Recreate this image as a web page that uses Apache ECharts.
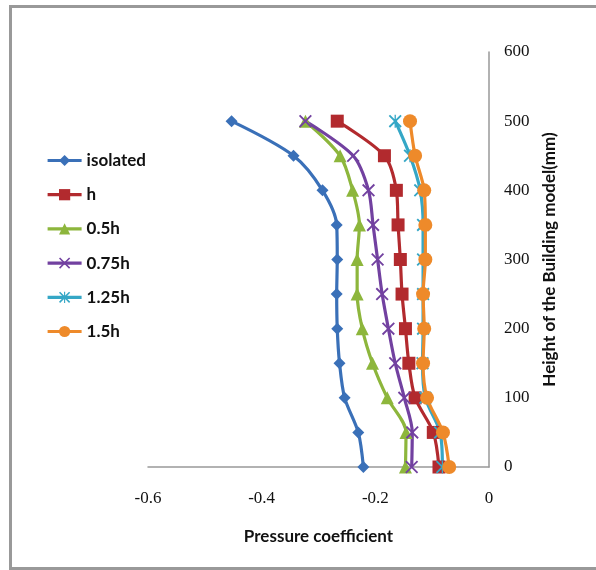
<!DOCTYPE html>
<html>
<head>
<meta charset="utf-8">
<script src="https://cdn.jsdelivr.net/npm/echarts@6/dist/echarts.min.js"></script>
<style>
html,body{margin:0;padding:0;background:#fff;}
#chart{width:596px;height:570px;}
</style>
</head>
<body>
<div id="chart"></div>
<script>
const heights = [0, 50, 100, 150, 200, 250, 300, 350, 400, 450, 500];
const seriesNames = ['isolated', 'h', '0.5h', '0.75h', '1.25h', '1.5h'];
const isolated = [-0.221, -0.230, -0.254, -0.263, -0.267, -0.268, -0.267, -0.268, -0.293, -0.344, -0.453];
const hVals    = [-0.088, -0.098, -0.130, -0.141, -0.147, -0.153, -0.156, -0.160, -0.163, -0.184, -0.267];
const h05      = [-0.147, -0.146, -0.179, -0.205, -0.223, -0.232, -0.232, -0.228, -0.240, -0.262, -0.323];
const h075     = [-0.136, -0.135, -0.149, -0.165, -0.177, -0.188, -0.196, -0.204, -0.212, -0.239, -0.323];
const h125     = [-0.082, -0.086, -0.112, -0.117, -0.116, -0.116, -0.116, -0.116, -0.121, -0.139, -0.165];
const h15      = [-0.070, -0.081, -0.109, -0.116, -0.114, -0.116, -0.112, -0.112, -0.114, -0.130, -0.139];
const xTicks = [-0.6, -0.4, -0.2, 0];

const colors = ['#3A70B8', '#B22A2E', '#8DB63C', '#7241A0', '#35A7C6', '#EE8A2A'];
const xPath = 'path://M0,1L1,0L10,9L9,10Z M9,0L10,1L1,10L0,9Z';
const starPath = 'path://M0,1L1,0L10,9L9,10Z M9,0L10,1L1,10L0,9Z M4.5,0L5.5,0L5.5,10L4.5,10Z';
const symbols = ['diamond', 'rect', 'triangle', xPath, starPath, 'circle'];
const sizes = [12, 13, 13, 13, 13, 14];
const valueSets = [isolated, hVals, h05, h075, h125, h15];

const series = seriesNames.map((name, i) => ({
  name: name,
  type: 'line',
  smooth: 0.3,
  symbol: symbols[i],
  symbolSize: sizes[i],
  showAllSymbol: true,
  lineStyle: { width: 3.2, color: colors[i] },
  itemStyle: { color: colors[i] },
  emphasis: { disabled: true },
  data: heights.map((h, k) => [valueSets[i][k], h])
}));

const titleFont = { fontFamily: 'Lato', fontWeight: 'bold', fontSize: 17, color: '#111' };

const chart = echarts.init(document.getElementById('chart'), null, { renderer: 'canvas' });
chart.setOption({
  animation: false,
  backgroundColor: '#fff',
  color: colors,
  grid: { left: 148, right: 107, top: 52, bottom: 103, containLabel: false },
  legend: {
    orient: 'vertical',
    left: 46,
    top: 152,
    padding: 0,
    itemWidth: 34,
    itemHeight: 14,
    itemGap: 17.2,
    lineStyle: { width: 3.2 },
    textStyle: titleFont,
    data: seriesNames
  },
  xAxis: {
    type: 'value',
    min: -0.6,
    max: 0,
    interval: 0.2,
    name: 'Pressure coefficient',
    nameLocation: 'middle',
    nameGap: 61,
    nameTextStyle: titleFont,
    axisLine: { show: true, onZero: false, lineStyle: { color: '#999', width: 1.5 } },
    axisTick: { show: false },
    splitLine: { show: false },
    axisLabel: {
      margin: 23,
      fontFamily: 'Liberation Serif',
      fontSize: 17,
      color: '#111',
      formatter: v => { const t = xTicks.find(x => Math.abs(x - v) < 1e-9); return t === undefined ? '' : String(t); }
    }
  },
  yAxis: {
    type: 'value',
    position: 'right',
    min: 0,
    max: 600,
    interval: 100,
    name: 'Height of the Building model(mm)',
    nameLocation: 'middle',
    nameGap: 52,
    nameTextStyle: titleFont,
    axisLine: { show: true, onZero: false, lineStyle: { color: '#999', width: 1.5 } },
    axisTick: { show: false },
    splitLine: { show: false },
    axisLabel: { margin: 15, fontFamily: 'Liberation Serif', fontSize: 17, color: '#111' }
  },
  graphic: [{
    type: 'rect',
    shape: { x: 10.5, y: 6.5, width: 600, height: 562 },
    style: { fill: null, stroke: '#999', lineWidth: 3 },
    silent: true
  }],
  series: series
});
</script>
</body>
</html>
